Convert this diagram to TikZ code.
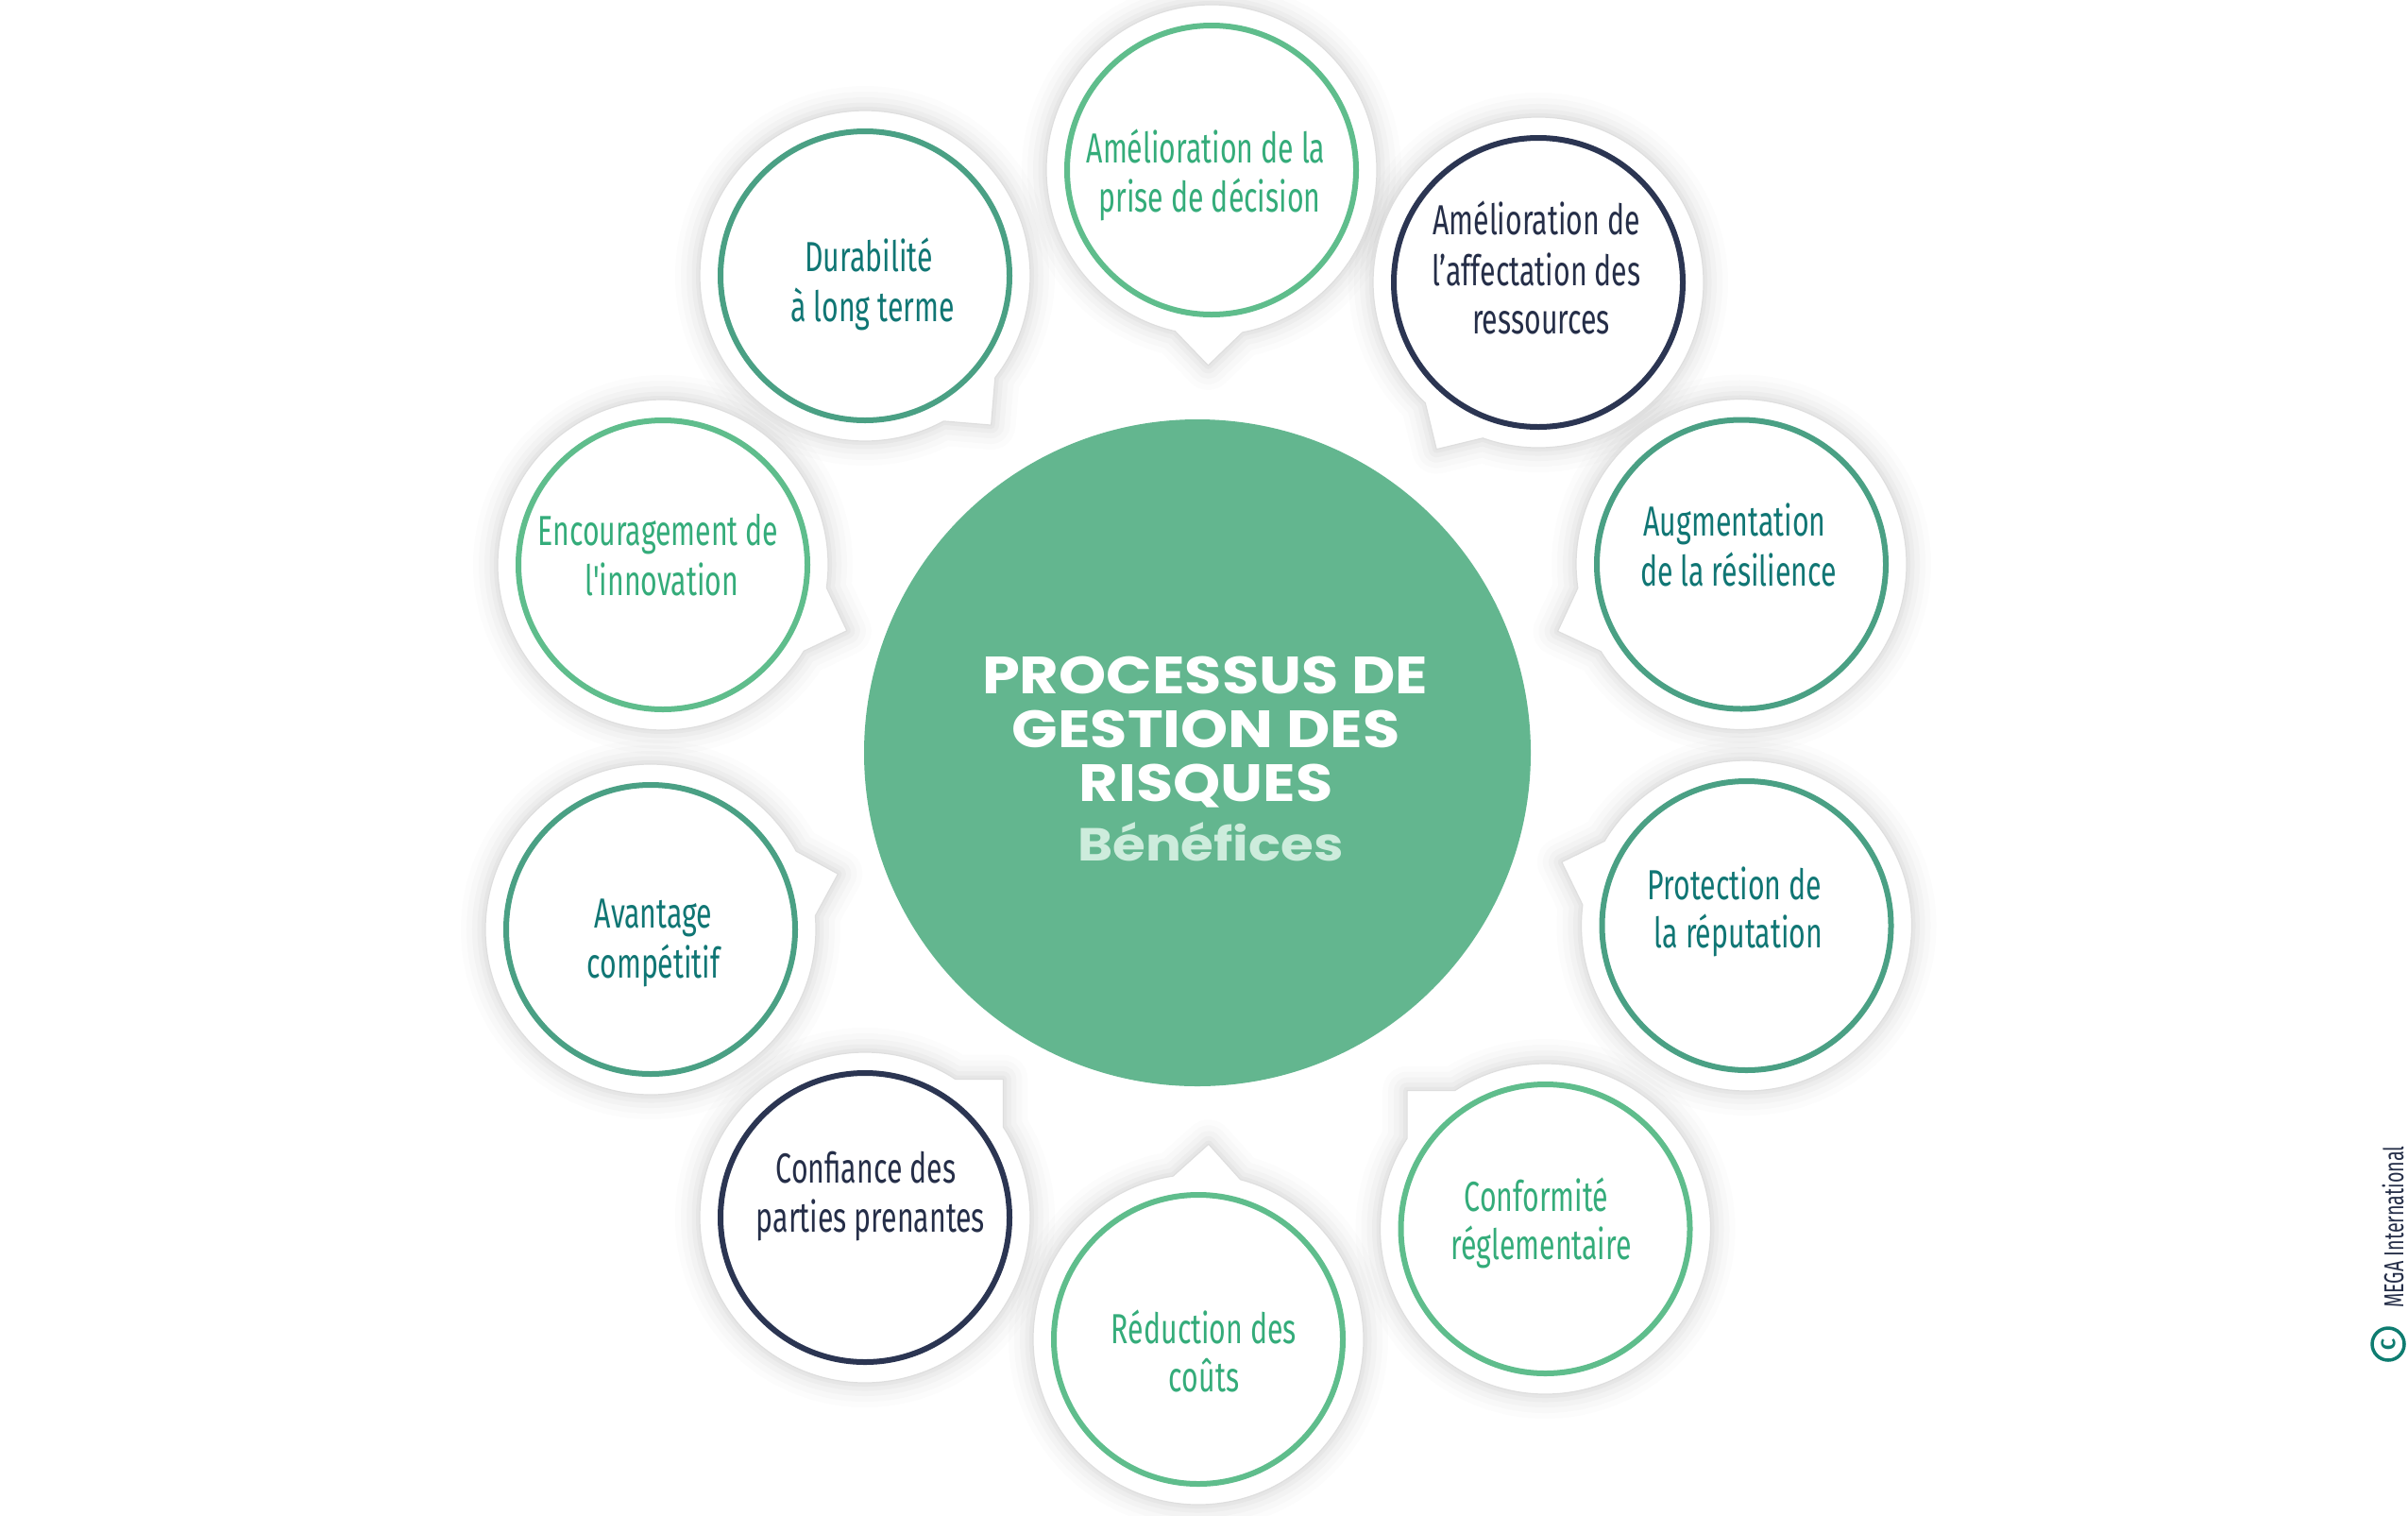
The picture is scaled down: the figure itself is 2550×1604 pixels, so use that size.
\documentclass[tikz,border=0pt]{standalone}
\usepackage{fontspec}
\newfontfamily\bubfont[FakeStretch=0.68]{Fira Sans}
\newfontfamily\titlefont[FakeStretch=1.15]{Poppins}
\definecolor{ringlg}{RGB}{95,189,140}
\definecolor{ringteal}{RGB}{74,160,132}
\definecolor{ringnavy}{RGB}{43,53,82}
\definecolor{txtlg}{RGB}{52,172,122}
\definecolor{txtteal}{RGB}{16,118,116}
\definecolor{txtnavy}{RGB}{37,46,72}
\definecolor{core}{RGB}{99,182,143}
\definecolor{benef}{RGB}{205,236,220}
\definecolor{copyteal}{RGB}{14,124,112}
\begin{document}
\begin{tikzpicture}[x=1pt,y=1pt,
  ring/.style={circle,line width=6pt,minimum size=306pt,inner sep=0pt,fill=white},
  bt/.style={font=\bubfont\fontsize{44.5}{52}\selectfont,anchor=base,inner sep=0pt},
  tt/.style={font=\titlefont\bfseries\fontsize{55.5}{56}\selectfont,text=white,anchor=base,inner sep=0pt}]
\fill[white] (0,0) rectangle (2550,-1604);
\useasboundingbox (0,0) rectangle (2550,-1604);

% shadows
\foreach \x/\y/\a in {1283/180/-91,1629/299/-121.4,1844/597.5/-160,1849.5/980/161,1636.5/1301/135,1269/1418/87,916/1289/45,689/984/16.5,702/598/-19.7,916/292/-49.8}{
  \begin{scope}[shift={(\x,-\y)},rotate=\a]
    \foreach \w/\o in {52/0.010,40/0.014,28/0.018,17/0.022,8/0.028}{
      \draw[black,line width=\w pt,draw opacity=\o,line join=round]
        (11.77:175) arc[start angle=11.77,end angle=348.23,radius=175] -- (207,0) -- cycle;
    }
  \end{scope}
}
% white bubbles
\foreach \x/\y/\a in {1283/180/-91,1629/299/-121.4,1844/597.5/-160,1849.5/980/161,1636.5/1301/135,1269/1418/87,916/1289/45,689/984/16.5,702/598/-19.7,916/292/-49.8}{
  \begin{scope}[shift={(\x,-\y)},rotate=\a]
    \filldraw[fill=white,draw=black!13,line width=1.2pt,line join=round]
      (11.77:175) arc[start angle=11.77,end angle=348.23,radius=175] -- (207,0) -- cycle;
  \end{scope}
}

% rings
\node[ring,draw=ringlg]    (r1)  at (1283,-180)    {};
\node[ring,draw=ringnavy]  (r2)  at (1629,-299)    {};
\node[ring,draw=ringteal]  (r3)  at (1844,-597.5)  {};
\node[ring,draw=ringteal]  (r4)  at (1849.5,-980)  {};
\node[ring,draw=ringlg]    (r5)  at (1636.5,-1301) {};
\node[ring,draw=ringlg]    (r6)  at (1269,-1418)   {};
\node[ring,draw=ringnavy]  (r7)  at (916,-1289)    {};
\node[ring,draw=ringteal]  (r8)  at (689,-984)     {};
\node[ring,draw=ringlg]    (r9)  at (702,-598)     {};
\node[ring,draw=ringteal]  (r10) at (916,-292)     {};

% texts
\node[bt,text=txtlg] (t1a) at (1277,-172) {Amélioration de la};
\node[bt,text=txtlg] (t1b) at (1281,-224) {prise de décision};

\node[bt,text=txtnavy] (t2a) at (1627,-248) {Amélioration de};
\node[bt,text=txtnavy] (t2b) at (1627,-302) {l’affectation des};
\node[bt,text=txtnavy] (t2c) at (1632,-353) {ressources};

\node[bt,text=txtteal] (t3a) at (1837,-567) {Augmentation};
\node[bt,text=txtteal] (t3b) at (1841,-620) {de la résilience};

\node[bt,text=txtteal] (t4a) at (1837,-952) {Protection de};
\node[bt,text=txtteal] (t4b) at (1841,-1003) {la réputation};

\node[bt,text=txtlg] (t5a) at (1627,-1282) {Conformité};
\node[bt,text=txtlg] (t5b) at (1632,-1333) {réglementaire};

\node[bt,text=txtlg] (t6a) at (1275,-1422) {Réduction des};
\node[bt,text=txtlg] (t6b) at (1275,-1473) {coûts};

\node[bt,text=txtnavy] (t7a) at (917,-1252) {Confiance des};
\node[bt,text=txtnavy] (t7b) at (922,-1304) {parties prenantes};

\node[bt,text=txtteal] (t8a) at (692,-982) {Avantage};
\node[bt,text=txtteal] (t8b) at (692,-1035) {compétitif};

\node[bt,text=txtlg] (t9a) at (697,-577) {Encouragement de};
\node[bt,text=txtlg] (t9b) at (701,-630) {l\char39 innovation};

\node[bt,text=txtteal] (t10a) at (920,-287) {Durabilité};
\node[bt,text=txtteal] (t10b) at (924,-340) {à long terme};

% core
\node[circle,fill=core,minimum size=706pt,inner sep=0pt] (core) at (1268,-797) {};
\node[tt] (c1) at (1276,-734) {PROCESSUS DE};
\node[tt] (c2) at (1277,-791) {GESTION DES};
\node[tt] (c3) at (1277,-848) {RISQUES};
\node[tt,text=benef,font=\titlefont\bfseries\fontsize{49}{50}\selectfont] (c4) at (1282,-911) {Bénéfices};

% copyright
\node[rotate=90,anchor=base,inner sep=0pt,text=txtnavy,font=\bubfont\fontsize{29}{30}\selectfont] (mega) at (2545,-1299) {MEGA International};
\node[circle,draw=copyteal,line width=3.5pt,minimum size=34pt,inner sep=0pt] (copy) at (2529,-1423) {};
\node[rotate=90,text=copyteal,inner sep=0pt,font=\fontspec{Fira Sans}\bfseries\fontsize{21}{21}\selectfont] (copyc) at (copy.center) {C};
\end{tikzpicture}
\end{document}
